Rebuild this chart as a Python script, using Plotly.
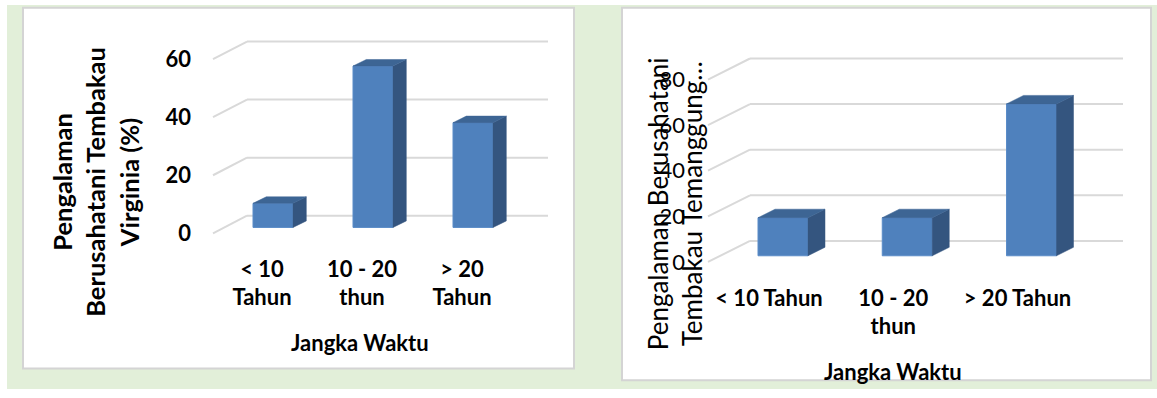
import plotly.graph_objects as go

W, H = 1157, 398

# ---------------- data ----------------
categories = ["< 10 Tahun", "10 - 20 thun", "> 20 Tahun"]
left_tick_labels = ["< 10<br>Tahun", "10 - 20<br>thun", "> 20<br>Tahun"]
right_tick_labels = ["< 10 Tahun", "10 - 20<br>thun", "> 20 Tahun"]
virginia_pct = [8.3, 55.6, 36.1]
temanggung_pct = [16.7, 16.7, 66.6]
left_yticks = [0, 20, 40, 60]
right_yticks = [0, 20, 40, 60, 80]

FRONT = "#4f81bd"
SIDE = "#34557f"
TOP = "#3d6594"
GRID = "#d9d9d9"

# ---------------- layout geometry (pixels) ----------------
panels = [
    dict(name="L", xa="x", ya="y", values=virginia_pct, ticks=left_yticks, labels=left_tick_labels,
         cx0=273, cxu=100, fy0=238.7, fyu=2.97, box=(211, 550, 38, 242),
         back_dx=34, back_dy=18, slant_x0=213, back_x1=548,
         bar_base=6.0, bar_dx=13.3, bar_dy=6.7, bar_w=40, lab_shift=-11,
         tick_bold=True, ystand=19, xstand=17),
    dict(name="R", xa="x2", ya="y2", values=temanggung_pct, ticks=right_yticks, labels=right_tick_labels,
         cx0=783, cxu=124.25, fy0=268, fyu=2.333, box=(705, 1126, 50, 272),
         back_dx=42, back_dy=21.5, slant_x0=708, back_x1=1123,
         bar_base=6.3, bar_dx=17, bar_dy=8.7, bar_w=50, lab_shift=-14,
         tick_bold=False, ystand=19, xstand=17),
]

fig = go.Figure()
shapes = []

# background + white panels
shapes.append(dict(type="rect", xref="paper", yref="paper", x0=7 / W, x1=1, y0=0, y1=1 - 5 / H,
                   fillcolor="#e2efd9", line=dict(width=0), layer="below"))
for (x0, x1, y0, y1) in [(23, 574, 8, 377), (622, 1151, 8, 389)]:
    shapes.append(dict(type="rect", xref="paper", yref="paper", x0=x0 / W, x1=x1 / W,
                       y0=1 - y1 / H, y1=1 - y0 / H, fillcolor="white",
                       line=dict(color="#d4d4d4", width=2), layer="below"))

layout_axes = {}
for p in panels:
    cxu, fyu = p["cxu"], p["fyu"]
    bx0, bx1, by0, by1 = p["box"]
    xr = [(bx0 - p["cx0"]) / cxu, (bx1 - p["cx0"]) / cxu]
    yr = [(p["fy0"] - by1) / fyu, (p["fy0"] - by0) / fyu]
    bdx = p["back_dx"] / cxu
    bdy = p["back_dy"] / fyu
    sx0 = (p["slant_x0"] - p["cx0"]) / cxu
    bx_end = (p["back_x1"] - p["cx0"]) / cxu
    base = p["bar_base"] / fyu
    ddx = p["bar_dx"] / cxu
    ddy = p["bar_dy"] / fyu
    hw = p["bar_w"] / cxu / 2

    # back wall gridlines and floor slants
    for t in p["ticks"]:
        shapes.append(dict(type="line", xref=p["xa"], yref=p["ya"], x0=sx0 + bdx, x1=bx_end,
                           y0=t + bdy, y1=t + bdy, line=dict(color=GRID, width=2), layer="below"))
        shapes.append(dict(type="line", xref=p["xa"], yref=p["ya"], x0=sx0, x1=sx0 + bdx,
                           y0=t, y1=t + bdy, line=dict(color=GRID, width=2), layer="below"))

    idx = list(range(len(categories)))
    # front faces
    fig.add_trace(go.Bar(x=idx, y=p["values"], base=[base] * len(idx), width=2 * hw,
                         marker=dict(color=FRONT, line=dict(color="#5b8cc8", width=1)),
                         xaxis=p["xa"], yaxis=p["ya"], showlegend=False, hoverinfo="skip"))
    # side + top faces
    for i, v in zip(idx, p["values"]):
        top = base + v
        fig.add_trace(go.Scatter(
            x=[i + hw, i + hw + ddx, i + hw + ddx, i + hw, i + hw],
            y=[base, base + ddy, top + ddy, top, base],
            fill="toself", fillcolor=SIDE, mode="lines", line=dict(color=SIDE, width=0.5),
            xaxis=p["xa"], yaxis=p["ya"], showlegend=False, hoverinfo="skip"))
        fig.add_trace(go.Scatter(
            x=[i - hw, i + hw, i + hw + ddx, i - hw + ddx, i - hw],
            y=[top, top, top + ddy, top + ddy, top],
            fill="toself", fillcolor=TOP, mode="lines", line=dict(color=TOP, width=0.5),
            xaxis=p["xa"], yaxis=p["ya"], showlegend=False, hoverinfo="skip"))

    tickfont = dict(family="Lato", size=22, color="black", weight=700 if p["tick_bold"] else 400)
    xkey = "xaxis" if p["xa"] == "x" else "xaxis2"
    ykey = "yaxis" if p["ya"] == "y" else "yaxis2"
    layout_axes[xkey] = dict(domain=[bx0 / W, bx1 / W], range=xr, anchor=p["ya"],
                             tickvals=[i + p["lab_shift"] / cxu for i in idx], ticktext=p["labels"],
                             showgrid=False, zeroline=False, showline=False, ticks="",
                             tickfont=dict(family="Lato", size=22, color="black", weight=700),
                             ticklabelstandoff=p["xstand"], fixedrange=True)
    layout_axes[ykey] = dict(domain=[1 - by1 / H, 1 - by0 / H], range=yr, anchor=p["xa"],
                             tickvals=p["ticks"], showgrid=False, zeroline=False, showline=False,
                             ticks="", tickfont=tickfont, ticklabelstandoff=p["ystand"],
                             fixedrange=True)

annotations = [
    dict(text="Pengalaman<br>Berusahatani Tembakau<br>Virginia (%)", textangle=-90,
         x=95 / W, y=1 - 186 / H, font=dict(family="Lato", size=25.5, color="black", weight=700)),
    dict(text="Jangka Waktu", x=360 / W, y=1 - 350 / H,
         font=dict(family="Lato", size=22, color="black", weight=700)),
    dict(text="Pengalaman Berusahatani<br>Tembakau Temanggung…", textangle=-90,
         x=675 / W, y=1 - 209 / H, font=dict(family="Lato", size=26, color="black", weight=400)),
    dict(text="Jangka Waktu", x=893 / W, y=1 - 380 / H,
         font=dict(family="Lato", size=22, color="black", weight=700)),
]
for a in annotations:
    a.update(xref="paper", yref="paper", xanchor="center", yanchor="middle", showarrow=False,
             align="center")

fig.update_layout(
    width=W, height=H, margin=dict(l=0, r=0, t=0, b=0),
    paper_bgcolor="white", plot_bgcolor="rgba(0,0,0,0)",
    shapes=shapes, annotations=annotations, barmode="overlay",
    **layout_axes,
)

fig.write_html("out.html", config={"displayModeBar": False})
